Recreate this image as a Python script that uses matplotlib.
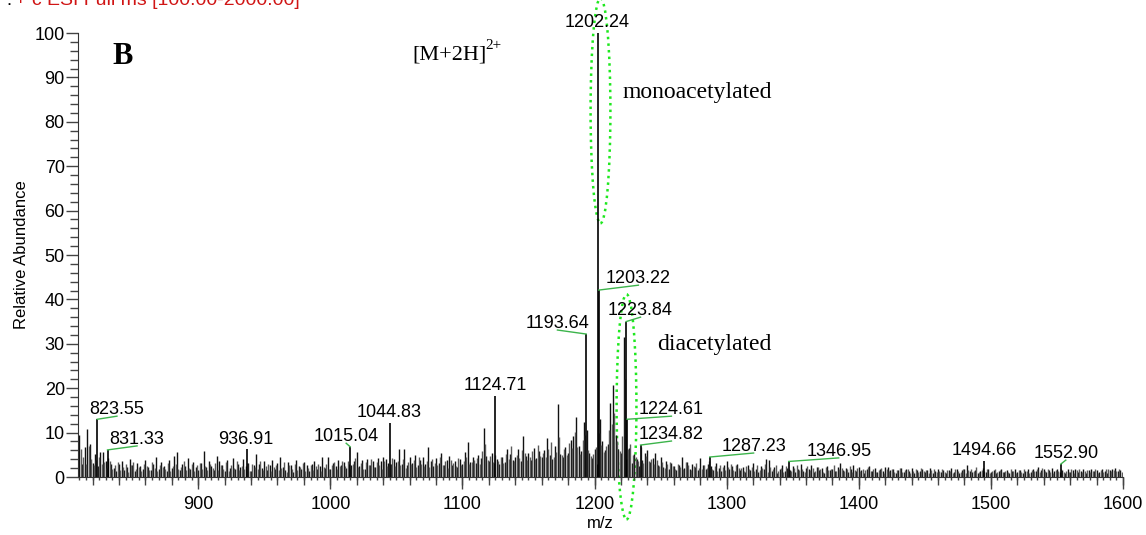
import numpy as np
import matplotlib.pyplot as plt
from matplotlib.patches import Ellipse
from matplotlib.ticker import MultipleLocator

# background sticks, every 2 m/z starting at each row start
noise_starts = [810, 910, 1010, 1110, 1210, 1310, 1410, 1510]
noise_rows = [
    [9.5, 3.0, 6.8, 10.8, 7.5, 3.2, 5.2, 2.5, 5.6, 5.6, 3.6, 4.2, 3.0, 2.0, 1.4, 2.9, 3.6, 1.6, 2.2, 4.1,
     2.6, 1.3, 3.1, 2.4, 1.7, 3.8, 2.2, 1.5, 2.9, 4.5, 1.9, 3.3, 2.5, 1.4, 3.9, 2.1, 4.8, 5.6, 1.6, 3.0,
     2.4, 4.2, 1.8, 3.4, 2.2, 1.5, 3.1, 5.9, 2.3, 3.7],
    [2.4, 1.6, 4.7, 3.5, 2.8, 1.3, 3.9, 2.1, 4.3, 1.7, 3.0, 2.2, 4.0, 2.5, 3.1, 1.4, 2.6, 5.2, 3.0, 2.0,
     3.6, 1.5, 2.8, 3.9, 1.8, 3.2, 4.5, 2.3, 1.6, 3.4, 2.7, 1.2, 3.8, 2.4, 1.9, 3.3, 2.6, 1.4, 2.9, 3.7,
     1.7, 2.5, 4.5, 2.0, 4.5, 1.8, 3.2, 2.4, 3.9, 2.7],
    [3.3, 2.1, 3.0, 2.6, 3.5, 5.6, 2.4, 3.8, 1.9, 4.1, 2.8, 3.5, 2.2, 4.3, 3.6, 4.4, 4.0, 3.1, 2.9, 4.1,
     3.4, 6.3, 3.0, 6.3, 2.6, 4.6, 3.2, 5.0, 2.7, 3.8, 4.4, 2.9, 6.8, 3.5, 2.4, 4.2, 3.1, 5.3, 2.6, 3.9,
     4.7, 2.8, 3.5, 2.2, 4.1, 3.0, 5.6, 7.9, 3.4, 4.6],
    [3.2, 5.0, 4.3, 11.0, 4.8, 3.6, 5.4, 3.1, 4.0, 2.9, 4.5, 3.4, 6.2, 5.1, 3.8, 4.6, 6.3, 3.5, 9.2, 4.7,
     5.5, 3.9, 6.6, 4.2, 5.8, 4.4, 6.1, 8.8, 5.0, 4.1, 6.9, 16.4, 5.2, 4.6, 6.8, 5.4, 8.3, 9.2, 13.5, 7.0,
     5.8, 12.4, 10.6, 5.5, 4.2, 6.3, 3.0, 13.0, 8.2, 6.1],
    [7.4, 16.7, 20.7, 9.5, 6.2, 5.4, 31.5, 4.0, 6.5, 3.2, 5.1, 4.0, 2.5, 3.9, 5.4, 6.0, 3.3, 4.2, 5.4, 2.8,
     4.4, 2.3, 3.6, 1.9, 3.1, 2.5, 1.6, 2.8, 4.5, 2.0, 3.3, 1.7, 2.9, 2.2, 1.5, 4.3, 2.6, 1.8, 3.0, 2.4,
     1.6, 3.2, 2.1, 1.4, 2.7, 3.5, 1.8, 2.4, 1.3, 3.0],
    [1.6, 2.3, 1.2, 2.8, 1.5, 3.1, 1.9, 1.1, 2.5, 1.7, 4.0, 3.8, 1.4, 2.2, 1.0, 1.9, 2.6, 1.3, 2.0, 1.6,
     2.4, 1.1, 1.8, 2.9, 1.4, 2.1, 1.7, 2.7, 1.2, 2.3, 1.5, 2.0, 1.0, 2.4, 1.6, 1.9, 1.3, 2.2, 3.2, 1.5,
     2.1, 1.1, 1.7, 2.6, 1.3, 2.3, 1.6, 1.0, 1.9, 2.4],
    [1.4, 2.0, 1.1, 1.7, 1.3, 2.2, 2.3, 1.5, 1.9, 1.0, 1.6, 2.1, 1.2, 1.8, 1.4, 2.0, 0.9, 1.6, 1.3, 1.9,
     1.1, 1.5, 2.1, 1.0, 1.4, 1.8, 1.2, 1.6, 0.9, 1.5, 2.0, 1.2, 1.7, 1.0, 1.5, 1.9, 2.7, 1.3, 1.1, 1.6,
     1.0, 1.4, 2.0, 1.2, 1.7, 1.1, 1.5, 0.9, 1.3, 1.8],
    [1.2, 1.6, 1.0, 1.4, 1.9, 1.1, 1.5, 0.9, 1.3, 1.7, 1.2, 1.8, 1.4, 2.3, 1.6, 1.9, 1.2, 1.5, 2.0, 1.3,
     1.7, 1.1, 1.5, 1.0, 1.8, 1.2, 1.6, 1.9, 1.1, 1.4, 1.7, 1.0, 1.5, 1.9, 1.3, 1.6, 1.1, 1.7, 1.4, 1.0,
     1.6, 1.9, 2.0, 1.3, 1.5],
]
# the sticks in between, one m/z above each of the ones above
odd_rows = [
    [6.2, 4.5, 3.0, 7.0, 4.0, 2.6, 3.8, 4.4, 2.9, 3.3, 2.1, 3.5, 1.8, 2.7, 3.3, 1.5, 2.3, 3.0, 1.2, 2.6,
     3.4, 1.9, 2.2, 1.4, 3.0, 2.5, 1.6, 3.4, 2.0, 1.3, 2.8, 2.2, 1.7, 3.1, 1.4, 2.5, 2.9, 1.8, 2.3, 3.5,
     1.5, 2.0, 3.0, 1.3, 2.6, 3.2, 1.9, 2.4, 1.6, 2.9],
    [2.0, 3.1, 1.5, 2.6, 1.9, 3.3, 1.4, 2.7, 2.1, 3.5, 1.6, 2.4, 1.8, 3.2, 1.3, 2.9, 2.2, 1.7, 3.6, 1.5,
     2.5, 3.0, 1.4, 2.2, 2.8, 1.6, 2.0, 3.3, 1.2, 2.6, 1.9, 2.9, 1.5, 2.3, 3.1, 1.4, 2.1, 2.7, 1.6, 2.4,
     3.0, 1.3, 2.2, 2.9, 1.8, 2.6, 3.4, 1.7, 2.5, 3.6],
    [2.5, 3.6, 1.8, 2.9, 4.2, 2.3, 3.1, 1.9, 3.4, 2.6, 4.0, 2.2, 3.3, 2.8, 1.9, 3.7, 2.5, 3.0, 4.3, 2.4,
     3.6, 2.7, 4.1, 2.0, 3.4, 2.9, 3.8, 2.3, 4.6, 3.0, 2.5, 3.7, 2.2, 4.0, 3.1, 2.6, 4.4, 2.8, 3.5, 2.1,
     3.9, 3.2, 2.4, 4.2, 2.7, 3.6, 4.5, 2.9, 3.3, 3.8],
    [4.2, 3.0, 5.8, 7.5, 3.9, 4.7, 3.3, 5.0, 3.6, 4.4, 3.1, 5.2, 4.0, 7.0, 3.7, 4.9, 4.3, 6.0, 5.5, 3.8,
     4.6, 5.9, 4.1, 7.2, 4.8, 5.3, 4.5, 6.4, 7.8, 4.4, 5.6, 9.0, 4.9, 6.2, 5.0, 7.6, 6.5, 10.2, 6.8, 5.1,
     8.4, 9.5, 6.0, 4.8, 5.2, 6.7, 9.8, 7.1, 5.7, 6.9],
    [10.5, 12.0, 14.5, 8.0, 5.8, 9.2, 22.0, 6.3, 7.5, 5.0, 4.6, 3.5, 6.8, 3.2, 4.8, 3.7, 4.1, 2.9, 3.8, 2.5,
     3.4, 2.0, 2.9, 3.3, 2.4, 1.8, 3.0, 2.2, 1.9, 3.4, 2.6, 1.5, 2.4, 3.1, 2.0, 1.7, 2.8, 2.1, 3.6, 1.9,
     2.5, 1.4, 2.8, 2.2, 1.6, 2.3, 2.9, 1.5, 2.6, 2.0],
    [2.0, 1.4, 2.5, 1.8, 2.2, 1.3, 2.7, 1.6, 2.0, 3.0, 1.2, 2.3, 1.7, 2.6, 1.4, 2.0, 1.1, 2.4, 1.8, 1.3,
     2.1, 2.7, 1.5, 1.9, 1.2, 2.5, 1.6, 2.0, 1.4, 2.2, 1.8, 1.1, 2.3, 1.5, 1.9, 2.6, 1.3, 1.7, 2.1, 1.4,
     1.8, 2.4, 1.2, 1.6, 2.0, 1.3, 1.9, 1.5, 2.2, 1.4],
    [1.8, 1.2, 1.5, 2.1, 1.0, 1.7, 1.4, 1.9, 1.2, 1.6, 2.0, 1.1, 1.5, 1.8, 1.0, 1.4, 1.7, 1.2, 2.0, 1.3,
     1.6, 1.0, 1.5, 1.9, 1.2, 1.4, 1.7, 1.1, 1.6, 1.3, 1.0, 1.8, 1.4, 1.2, 1.7, 1.0, 1.5, 1.9, 1.3, 2.2,
     1.1, 1.6, 1.3, 1.8, 1.0, 1.4, 1.7, 1.2, 1.5, 1.1],
    [1.4, 1.1, 1.7, 1.3, 1.0, 1.6, 1.2, 1.8, 1.4, 1.0, 1.5, 1.3, 1.9, 1.1, 2.1, 1.4, 1.7, 1.2, 1.0, 1.6,
     1.3, 1.8, 1.1, 1.4, 1.2, 1.7, 1.0, 1.5, 1.8, 1.2, 1.3, 1.6, 1.1, 1.4, 1.8, 1.0, 1.5, 1.2, 1.7, 1.9,
     1.3, 1.6, 1.4, 1.8, 1.2],
]

# labelled peaks
peak_mz = [823.55, 831.33, 936.91, 1015.04, 1044.83, 1124.71, 1193.64, 1202.24,
           1203.22, 1223.84, 1224.61, 1234.82, 1287.23, 1346.95, 1494.66, 1552.90]
peak_int = [13.0, 6.1, 6.4, 6.8, 12.2, 18.2, 32.2, 100.0,
            42.1, 35.0, 13.0, 7.2, 4.5, 3.5, 3.6, 2.9]
# where each label sits (text centre, bottom of leader)
label_x = [838.5, 853.7, 936.3, 1012.0, 1044.6, 1125.0, 1171.9, 1202.2,
           1233.2, 1234.8, 1258.2, 1258.2, 1320.4, 1384.8, 1494.6, 1556.7]
label_y = [13.7, 7.0, 6.9, 7.6, 13.0, 19.1, 33.1, 100.9,
           43.2, 36.0, 13.7, 8.1, 5.4, 4.3, 4.5, 3.8]

sans = ['Liberation Sans', 'DejaVu Sans']
serif = ['Liberation Serif', 'DejaVu Serif']
leader_green = '#3cb44b'
ring_green = '#1ee81e'

fig = plt.figure(figsize=(11.46, 5.35), dpi=100)
ax = fig.add_axes([78 / 1146, 1 - 477 / 535, 1045 / 1146, 444 / 535])

for start, row, odd in zip(noise_starts, noise_rows, odd_rows):
    mz = start + 2 * np.arange(len(row))
    ax.vlines(mz, 0, row, colors='#111111', lw=1.0)
    ax.vlines(start + 1 + 2 * np.arange(len(odd)), 0, odd, colors='#5a5a5a', lw=1.0)
ax.vlines(peak_mz, 0, peak_int, colors='black', lw=1.2)

for m, h, lx, ly in zip(peak_mz, peak_int, label_x, label_y):
    if abs(lx - m) > 1.5:
        ax.plot([m, lx], [h, ly], color=leader_green, lw=1.0, clip_on=False)
    ax.text(lx, ly + 0.5, f'{m:.2f}', ha='center', va='baseline',
            fontsize=13, family=sans, clip_on=False)

# dotted rings around the two charge-state groups
ax.add_patch(Ellipse((1204.5, 82.5), 15, 50.7, fill=False, ls=':', lw=1.8,
                     ec=ring_green, clip_on=False))
ax.add_patch(Ellipse((1224.2, 15.8), 15, 50.7, fill=False, ls=':', lw=1.8,
                     ec=ring_green, clip_on=False))

ax.text(834.8, 93, 'B', fontsize=22, fontweight='bold', family=serif)
ax.text(1062, 94, '[M+2H]', fontsize=16, family=serif)
ax.text(1117.5, 96.4, '2+', fontsize=11, family=serif)
ax.text(1221, 85.4, 'monoacetylated', fontsize=17, family=serif)
ax.text(1247, 28.6, 'diacetylated', fontsize=17, family=serif)

ax.set_xlim(809, 1600)
ax.set_ylim(0, 100)
for s in ['top', 'right']:
    ax.spines[s].set_visible(False)
for s in ['left', 'bottom']:
    ax.spines[s].set_color('#333333')
ax.xaxis.set_major_locator(MultipleLocator(100))
ax.xaxis.set_minor_locator(MultipleLocator(5))
ax.yaxis.set_major_locator(MultipleLocator(10))
ax.yaxis.set_minor_locator(MultipleLocator(2))
ax.tick_params(axis='y', which='major', length=8.5, width=1, color='#444444', pad=1, labelsize=13)
ax.tick_params(axis='y', which='minor', length=5.5, width=1, color='#444444')
ax.tick_params(axis='x', which='major', length=8.5, width=1, color='#444444', pad=5, labelsize=13)
ax.tick_params(axis='x', which='minor', length=2.5, width=1, color='#444444')
for lab in ax.get_xticklabels() + ax.get_yticklabels():
    lab.set_family(sans)

sec = ax.secondary_xaxis('bottom')
sec.xaxis.set_major_locator(MultipleLocator(20))
sec.tick_params(length=5.5, width=1, color='#444444', labelbottom=False)
sec.spines['bottom'].set_visible(False)

ax.set_xlabel('m/z', fontsize=12, family=sans, labelpad=2)
ax.set_ylabel('Relative Abundance', fontsize=12, family=sans, labelpad=4)

fig.text(13 / 1146, 1 - 5 / 535, 'F:', ha='right', va='baseline', fontsize=14, family=sans)
fig.text(15 / 1146, 1 - 5 / 535, '+ c ESI Full ms [100.00-2000.00]', ha='left',
         va='baseline', fontsize=14, family=sans, color='#d01515')

fig.savefig('out.png', dpi=100)
